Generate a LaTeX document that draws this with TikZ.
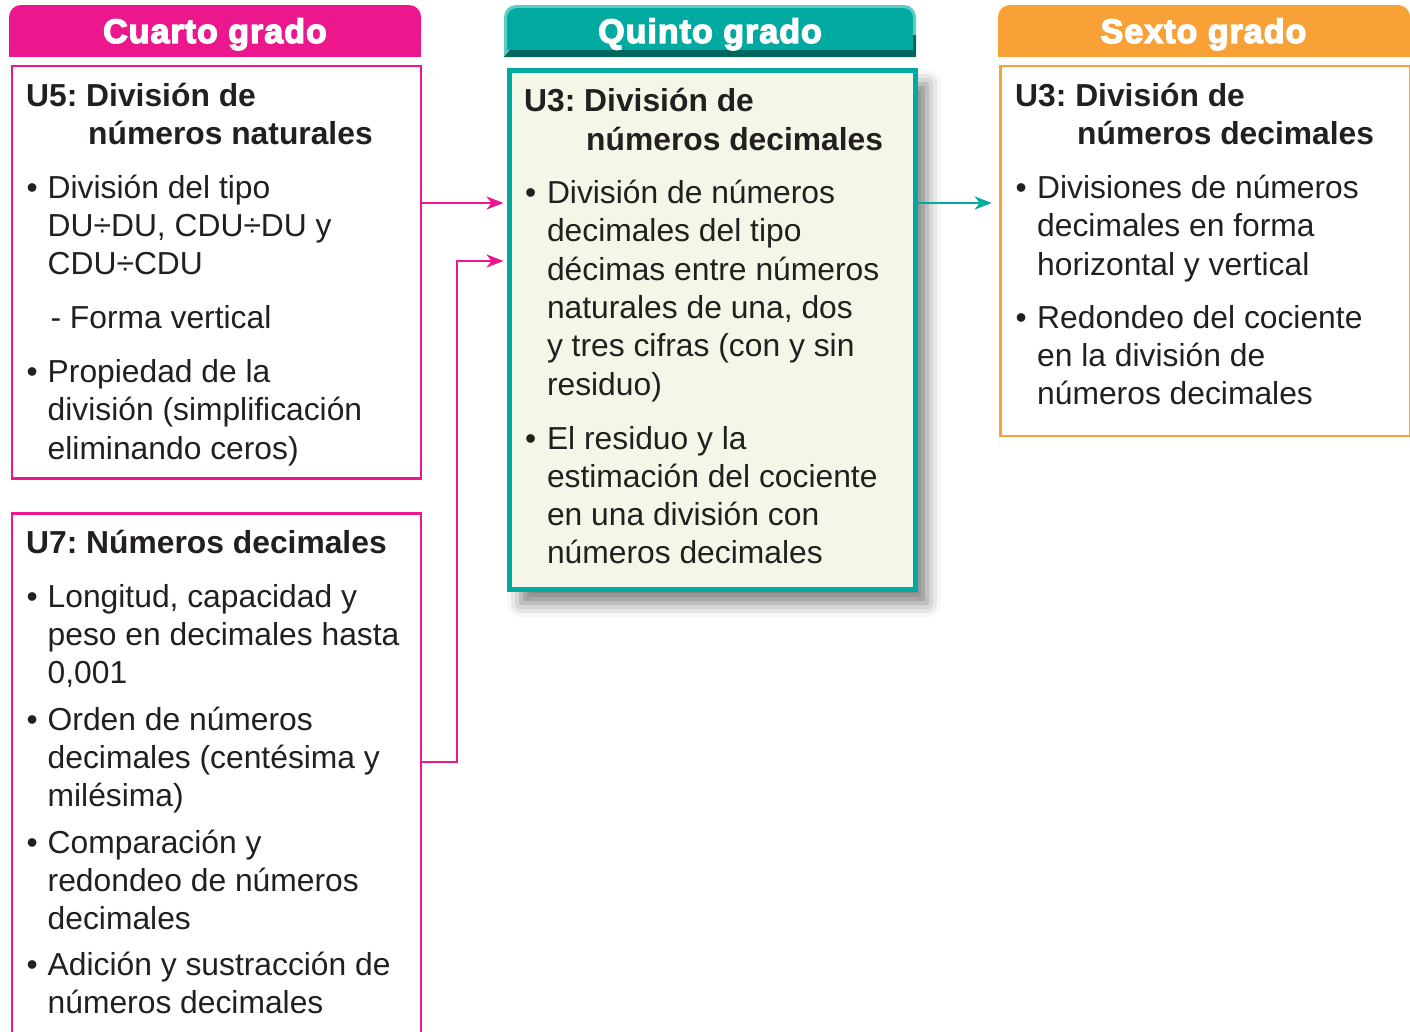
\documentclass[tikz,border=0pt]{standalone}
\usepackage{fontspec}
\setmainfont{Liberation Sans}
\newfontfamily\headfont[BoldFeatures={FakeBold=4,LetterSpace=3}]{Liberation Sans}
\usetikzlibrary{arrows.meta,shadows.blur,calc}
\definecolor{pk}{HTML}{EC178C}
\definecolor{tl}{HTML}{00AAA0}
\definecolor{tldark}{HTML}{00675F}
\definecolor{tllight}{HTML}{5FCCC4}
\definecolor{og}{HTML}{F7A136}
\definecolor{cream}{HTML}{F4F7E7}
\definecolor{ink}{HTML}{231F20}
\newcommand\lns[5]{\foreach \txtline [count=\i] in {#5}{\node[txt] (#1\i) at (#2,{#3+(\i-1)*#4}) {\txtline};}}
\frenchspacing
\begin{document}
\begin{tikzpicture}[x=1pt,y=-1pt,
  txt/.style={anchor=base west, inner sep=0pt, text=ink, font=\frenchspacing\fontsize{31.8}{38.3}\selectfont},
  ttl/.style={anchor=base west, inner sep=0pt, text=ink, font=\frenchspacing\fontsize{31.8}{38.3}\selectfont\bfseries},
  hd/.style={text=white, font=\headfont\fontsize{34}{40}\selectfont\bfseries, anchor=base, inner sep=0pt},
  box/.style={draw, anchor=north west, inner sep=0pt, line width=2.5pt},
  arr/.style={line width=2.5pt, -{Stealth[length=17pt,width=13pt,inset=5pt]}}]
\useasboundingbox (0,0) rectangle (1410,1031);
% boxes
\node[box, draw=pk, minimum width=409pt, minimum height=412.5pt] (b1) at (10.5,64.5) {};
\node[box, draw=pk, minimum width=409pt, minimum height=540pt] (b2) at (10.5,512) {};
\node[box, draw=tl, fill=cream, line width=5pt, minimum width=406pt, minimum height=519pt,
  blur shadow={shadow xshift=12pt, shadow yshift=-14pt, shadow blur radius=14pt, shadow opacity=50}] (b3) at (506.5,67.5) {};
\node[box, draw=og, minimum width=409.5pt, minimum height=370pt] (b4) at (999,64.5) {};
% headers
\fill[pk, rounded corners=12pt] (9,5) rectangle (421,40);
\fill[pk] (9,25) rectangle (421,57);
\fill[tllight, rounded corners=12pt] (504,5) rectangle (916,40);
\fill[tllight] (504,25) rectangle (916,57);
\fill[tldark] (916,57) -- (504,57) -- (510,50) -- (910,50) -- cycle;
\fill[tl, rounded corners=10pt] (507,8) rectangle (913,35);
\fill[tl] (507,25) rectangle (913,50);
\fill[tldark] (913,35) -- (916,35) -- (916,57) -- (910,50) -- (913,50) -- cycle;
\fill[og, rounded corners=12pt] (998,5) rectangle (1410,40);
\fill[og] (998,25) rectangle (1410,57);
\node[hd] (h1) at (215,43) {Cuarto grado};
\node[hd] (h2) at (710,43) {Quinto grado};
\node[hd] (h3) at (1203.5,43) {Sexto grado};
% box 1
\node[ttl] (t1a) at (26,106) {U5: División de};
\node[ttl] (t1b) at (88,144.3) {números naturales};
\node[txt] (d1) at (26.4,198) {•};
\lns{p1}{47.5}{198}{38.3}{{División del tipo},{DU÷DU, CDU÷DU y},{CDU÷CDU}}
\node[txt] (p1f) at (50.3,328.5) {- Forma vertical};
\node[txt] (d2) at (26.4,382.5) {•};
\lns{p2}{47.5}{382.5}{38.3}{{Propiedad de la},{división (simplificación},{eliminando ceros)}}
% box 2
\node[ttl] (t2) at (26,553) {U7: Números decimales};
\node[txt] (e1) at (26.4,607) {•};
\lns{q1}{47.5}{607}{38.3}{{Longitud, capacidad y},{peso en decimales hasta},{0,001}}
\node[txt] (e2) at (26.4,730) {•};
\lns{q2}{47.5}{730}{38.3}{{Orden de números},{decimales (centésima y},{milésima)}}
\node[txt] (e3) at (26.4,853) {•};
\lns{q3}{47.5}{853}{38.3}{{Comparación y},{redondeo de números},{decimales}}
\node[txt] (e4) at (26.4,975) {•};
\lns{q4}{47.5}{975}{38.3}{{Adición y sustracción de},{números decimales}}
% box 3
\node[ttl] (t3a) at (524,111.7) {U3: División de};
\node[ttl] (t3b) at (586,150) {números decimales};
\node[txt] (f1) at (524.9,203.5) {•};
\lns{m1}{546.8}{203.5}{38.3}{{División de números},{decimales del tipo},{décimas entre números},{naturales de una, dos},{y tres cifras (con y sin},{residuo)}}
\node[txt] (f2) at (524.9,449) {•};
\lns{m2}{546.8}{449}{38.3}{{El residuo y la},{estimación del cociente},{en una división con},{números decimales}}
% box 4
\node[ttl] (t4a) at (1015,106) {U3: División de};
\node[ttl] (t4b) at (1077,144.3) {números decimales};
\node[txt] (g1) at (1015.4,198.5) {•};
\lns{s1}{1037}{198.5}{38.3}{{Divisiones de números},{decimales en forma},{horizontal y vertical}}
\node[txt] (g2) at (1015.4,328) {•};
\lns{s2}{1037}{328}{38.3}{{Redondeo del cociente},{en la división de},{números decimales}}
% connectors
\coordinate (r1) at (0,203);
\coordinate (r2) at (0,261);
\coordinate (r3) at (0,762);
\coordinate (v) at (457,0);
\draw[arr, pk, shorten >=3pt] (b1.east |- r1) -- (b3.west |- r1);
\draw[arr, pk, shorten >=3pt] (b2.east |- r3) -| (v |- r2) -- (b3.west |- r2);
\draw[arr, tl, shorten >=7.3pt] (b3.east |- r1) -- (b4.west |- r1);
\end{tikzpicture}
\end{document}
